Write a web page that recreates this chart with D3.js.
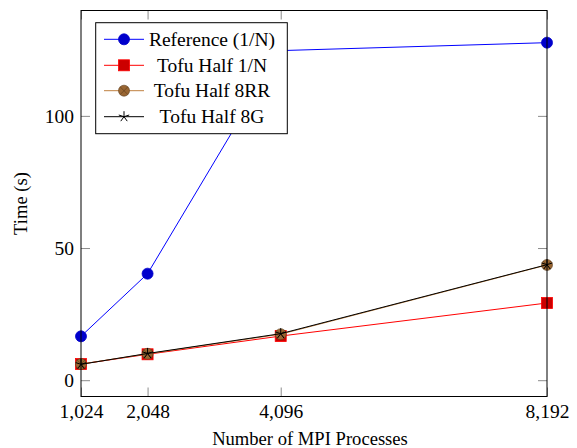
<!DOCTYPE html>
<html><head><meta charset="utf-8">
<script src="https://cdn.jsdelivr.net/npm/d3@7"></script>
<style>
html,body{margin:0;padding:0;background:#fff;}
svg{display:block;}
text{font-family:"Liberation Serif","Times New Roman",serif;fill:#000;}
</style></head>
<body>
<script>
const procs = [1024, 2048, 4096, 8192];
const xTicks = [1024, 2048, 4096, 8192];
const yTicks = [0, 50, 100];
const reference = [16.6, 40.3, 124.7, 127.7];
const tofuHalf1N = [6.1, 9.8, 16.7, 29.2];
const tofuHalf8RR = [6.1, 10.0, 17.4, 43.6];
const tofuHalf8G = [6.0, 10.1, 17.6, 43.7];
const seriesNames = ["Reference (1/N)", "Tofu Half 1/N", "Tofu Half 8RR", "Tofu Half 8G"];

const series = [
  {name: seriesNames[0], values: reference, line: "#0000ff", fill: "#0000cc", stroke: "#0000cc", mark: "circle"},
  {name: seriesNames[1], values: tofuHalf1N, line: "#ff0000", fill: "#cc0000", stroke: "#ff0000", mark: "square"},
  {name: seriesNames[2], values: tofuHalf8RR, line: "#bf8040", fill: "#996633", stroke: "#5a3a1a", mark: "otimes"},
  {name: seriesNames[3], values: tofuHalf8G, line: "#000000", fill: "none", stroke: "#000000", mark: "star"}
];

const W = 577, H = 448;
const L = 81, R = 547, T = 10.5, B = 396.5;

const svg = d3.select("body").append("svg").attr("width", W).attr("height", H);

const x = d3.scaleLinear().domain(d3.extent(procs)).range([L, R]);
const allVals = series.flatMap(s => s.values);
const [ymin, ymax] = d3.extent(allVals);
const pad = 0.1 * (ymax - ymin);
const y = d3.scaleLinear().domain([ymin - pad, ymax + pad]).range([B, T]);

const fmt = d3.format(",");
const tickLen = 9;
const tickColor = "#8c8c8c";
const fs = 19.5;

// inward ticks on all four sides
const gBottom = svg.append("g").attr("transform", `translate(0,${B})`)
  .call(d3.axisBottom(x).tickValues(xTicks).tickFormat(fmt).tickSize(-tickLen).tickPadding(8));
const gTop = svg.append("g").attr("transform", `translate(0,${T})`)
  .call(d3.axisTop(x).tickValues(xTicks).tickFormat("").tickSize(-tickLen));
const gLeft = svg.append("g").attr("transform", `translate(${L},0)`)
  .call(d3.axisLeft(y).tickValues(yTicks).tickFormat(d3.format("d")).tickSize(-tickLen).tickPadding(7));
const gRight = svg.append("g").attr("transform", `translate(${R},0)`)
  .call(d3.axisRight(y).tickValues(yTicks).tickFormat("").tickSize(-tickLen));
[gBottom, gTop, gLeft, gRight].forEach(g => {
  g.select(".domain").remove();
  g.selectAll(".tick line").attr("stroke", tickColor).attr("stroke-width", 1);
  g.selectAll("text").attr("font-family", "Liberation Serif").attr("font-size", fs).attr("fill", "#000");
});
gBottom.selectAll("text").attr("dy", "0.71em");

// clip
svg.append("clipPath").attr("id", "clip").append("rect")
  .attr("x", L - 8).attr("y", T - 8).attr("width", R - L + 16).attr("height", B - T + 16);

const line = d3.line().x((d, i) => x(procs[i])).y(d => y(d));

function drawMark(g, type, s, cx, cy) {
  const r = 5.5;
  if (type === "circle") {
    g.append("circle").attr("cx", cx).attr("cy", cy).attr("r", r)
      .attr("fill", s.fill).attr("stroke", s.stroke).attr("stroke-width", 0.8);
  } else if (type === "square") {
    g.append("rect").attr("x", cx - r).attr("y", cy - r).attr("width", 2 * r).attr("height", 2 * r)
      .attr("fill", s.fill).attr("stroke", s.stroke).attr("stroke-width", 0.8);
  } else if (type === "otimes") {
    g.append("circle").attr("cx", cx).attr("cy", cy).attr("r", r)
      .attr("fill", s.fill).attr("stroke", s.stroke).attr("stroke-width", 0.6);
    const k = r * 0.7071;
    g.append("path").attr("d", `M${cx - k},${cy - k}L${cx + k},${cy + k}M${cx - k},${cy + k}L${cx + k},${cy - k}`)
      .attr("stroke", s.stroke).attr("stroke-width", 0.6).attr("fill", "none");
  } else if (type === "star") {
    let d = "";
    for (let i = 0; i < 5; i++) {
      const a = -Math.PI / 2 + i * 2 * Math.PI / 5;
      d += `M${cx},${cy}L${cx + r * Math.cos(a)},${cy + r * Math.sin(a)}`;
    }
    g.append("path").attr("d", d).attr("stroke", s.stroke).attr("stroke-width", 1).attr("fill", "none");
  }
}

const plot = svg.append("g").attr("clip-path", "url(#clip)");
series.forEach(s => {
  const g = plot.append("g");
  g.append("path").datum(s.values).attr("d", line)
    .attr("fill", "none").attr("stroke", s.line).attr("stroke-width", 1);
  s.values.forEach((v, i) => drawMark(g, s.mark, s, x(procs[i]), y(v)));
});

// axis frame
svg.append("rect").attr("x", L).attr("y", T).attr("width", R - L).attr("height", B - T)
  .attr("fill", "none").attr("stroke", "#000").attr("stroke-width", 1);

// legend
const lg = svg.append("g");
const lx0 = 95.7, ly0 = 22.7, lx1 = 287.3, ly1 = 133.7;
lg.append("rect").attr("x", lx0).attr("y", ly0).attr("width", lx1 - lx0).attr("height", ly1 - ly0)
  .attr("fill", "#fff").attr("stroke", "#000").attr("stroke-width", 1);
const rowY = [39.3, 65.3, 90.7, 116.7];
series.forEach((s, i) => {
  const cy = rowY[i];
  lg.append("line").attr("x1", 104).attr("x2", 144).attr("y1", cy).attr("y2", cy)
    .attr("stroke", s.line).attr("stroke-width", 1);
  drawMark(lg, s.mark, s, 124, cy);
  lg.append("text").attr("x", 212).attr("y", cy).attr("dy", "0.33em")
    .attr("text-anchor", "middle").attr("font-size", fs).text(s.name);
});

// axis labels
svg.append("text").attr("x", (L + R) / 2 - 4).attr("y", 445).attr("text-anchor", "middle")
  .attr("font-size", 18.6).text("Number of MPI Processes");
svg.append("text").attr("transform", `translate(27,${(T + B) / 2}) rotate(-90)`)
  .attr("text-anchor", "middle").attr("font-size", 18.6).text("Time (s)");
</script>
</body></html>
